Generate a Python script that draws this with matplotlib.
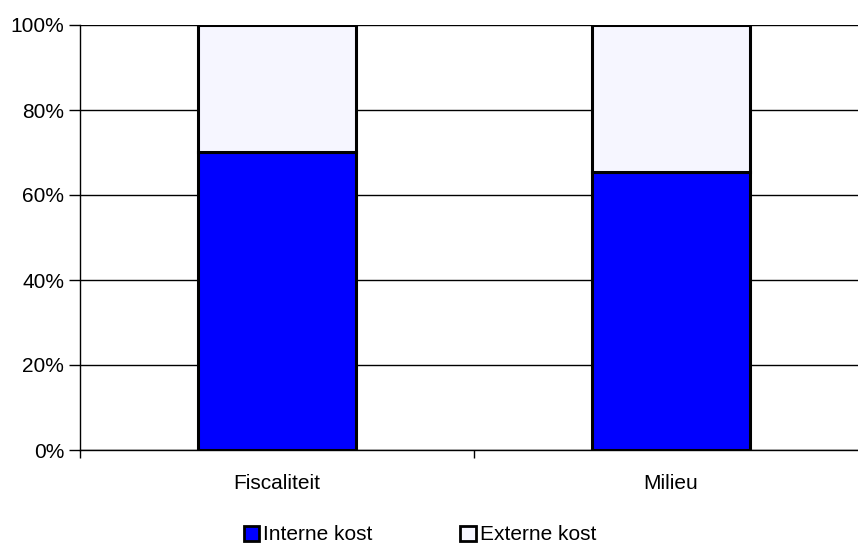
import matplotlib
matplotlib.use("Agg")
import matplotlib.pyplot as plt
from matplotlib.patches import Patch
from matplotlib.ticker import FuncFormatter

categories = ["Fiscaliteit", "Milieu"]
interne = [70.1, 65.5]
externe = [29.9, 34.5]
series_names = ["Interne kost", "Externe kost"]
colors = ["#0000ff", "#f6f6ff"]

plt.rcParams['font.family'] = ['Liberation Sans', 'DejaVu Sans']
plt.rcParams['font.size'] = 15

fig = plt.figure(figsize=(8.58, 5.43), dpi=100)
W, H = 858, 543
ax = fig.add_axes([80 / W, (H - 450) / H, 788 / W, 425 / H])

x = list(range(len(categories)))
ax.bar(x, interne, width=0.4, color=colors[0], edgecolor="black", linewidth=2.2, zorder=3)
ax.bar(x, externe, bottom=interne, width=0.4, color=colors[1], edgecolor="black", linewidth=2.2, zorder=3)

ax.set_xlim(-0.5, 1.5)
ax.set_ylim(0, 100)
ax.set_yticks([0, 20, 40, 60, 80, 100])
ax.yaxis.set_major_formatter(FuncFormatter(lambda v, p: f"{int(v)}%"))
ax.set_xticks([0, 1])
ax.set_xticklabels(categories)
ax.set_xticks([-0.5, 0.5, 1.5], minor=True)
ax.tick_params(axis="x", which="major", length=0, pad=17)
ax.tick_params(axis="x", which="minor", length=6, width=1, color="black")
ax.tick_params(axis="y", length=8, width=1, color="black", pad=3.5)

ax.yaxis.grid(True, color="black", linewidth=1, zorder=0)
for s in ["top", "right"]:
    ax.spines[s].set_visible(False)
ax.spines["left"].set_linewidth(1)
ax.spines["bottom"].set_linewidth(1)

handles = [Patch(facecolor=colors[0], edgecolor="black", linewidth=2, label=series_names[0]),
           Patch(facecolor=colors[1], edgecolor="black", linewidth=2, label=series_names[1])]
fig.legend(handles=handles, loc="center", bbox_to_anchor=(420 / W, 1 - 535 / H), ncol=2,
           frameon=False, handlelength=0.75, handleheight=0.75, handletextpad=0.2, columnspacing=4.2)

fig.savefig("out.png", dpi=100)
